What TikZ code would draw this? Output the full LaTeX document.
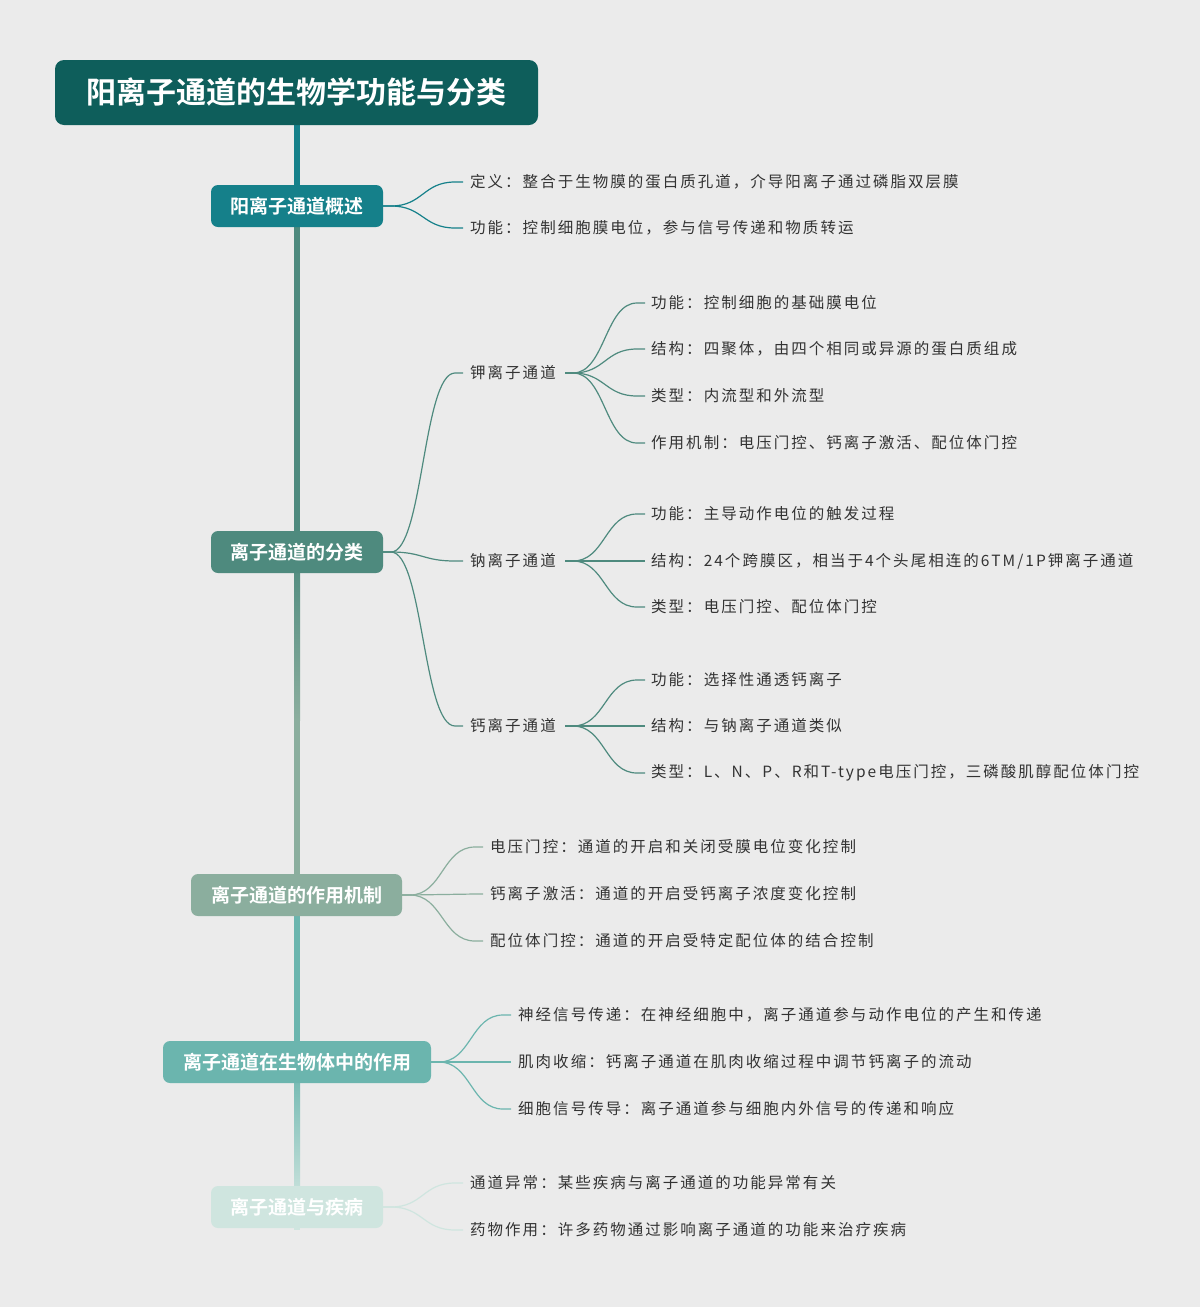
\documentclass[tikz,border=0pt]{standalone}
\usepackage{fontspec}
\setmainfont{Noto Sans CJK SC}[LetterSpace=13]
\newfontfamily\cjkb{Noto Sans CJK SC Bold}
\definecolor{bg}{HTML}{EBEBEB}
\definecolor{cT}{HTML}{0E5E5B}
\definecolor{cA}{HTML}{15808A}
\definecolor{cB}{HTML}{4E8A7E}
\definecolor{cC}{HTML}{8BAE9E}
\definecolor{cD}{HTML}{6BB5AE}
\definecolor{cE}{HTML}{CFE5DF}
\definecolor{tx}{HTML}{333333}
\tikzset{
 sec/.style={rounded corners=7pt,minimum height=42pt,text=white,font=\cjkb\fontsize{19}{19}\selectfont,inner xsep=0pt},
 leaf/.style={anchor=west,text=tx,font=\fontsize{15.5}{16}\selectfont,inner sep=0pt},
 con/.style={line width=1.2pt}
}
\begin{document}
\begin{tikzpicture}[x=1pt,y=-1pt]
\useasboundingbox[fill=bg] (0,0) rectangle (1200,1307);
% trunk
\draw[line width=6pt,cA] (297,125) -- (297,206);
\draw[line width=6pt,cB] (297,206) -- (297,552);
\shade[top color=cB,bottom color=cC] (294,552) rectangle (300,720);
\draw[line width=6pt,cC] (297,720) -- (297,895);
\draw[line width=6pt,cD] (297,895) -- (297,1062);
\shade[top color=cD,bottom color=cE] (294,1062) rectangle (300,1207);
\draw[line width=6pt,cE] (297,1207) -- (297,1230);
% title
\node[fill=cT,rounded corners=9pt,minimum width=483pt,minimum height=65pt,text=white,font=\cjkb\fontsize{30}{30}\selectfont] (title) at (296.5,92.5) {阳离子通道的生物学功能与分类};
% sections
\node[sec,fill=cA,minimum width=172pt] (s1) at (297,206) {阳离子通道概述};
\node[sec,fill=cB,minimum width=172pt] (s2) at (297,552) {离子通道的分类};
\node[sec,fill=cC,minimum width=211pt] (s3) at (296.5,895) {离子通道的作用机制};
\node[sec,fill=cD,minimum width=268pt] (s4) at (297,1062) {离子通道在生物体中的作用};
\node[sec,fill=cE,minimum width=172pt] (s5) at (297,1207) {离子通道与疾病};
\newcommand{\cn}[5]{\draw[con,#5] (#1,#2) -- ++(8,0) .. controls ({#1+8+(#3-#1-16)*0.5},#2) and ({#1+8+(#3-#1-16)*0.5},#4) .. (#3-8,#4) -- (#3,#4);}
% s1
\node[leaf] (l11) at (470,182) {定义：整合于生物膜的蛋白质孔道，介导阳离子通过磷脂双层膜};
\node[leaf] (l12) at (470,228) {功能：控制细胞膜电位，参与信号传递和物质转运};
\cn{383}{206}{463}{182}{cA}\cn{383}{206}{463}{228}{cA}
% s2
\node[leaf] (k) at (470,373) {钾离子通道};
\node[leaf] (n) at (470,561) {钠离子通道};
\node[leaf] (c) at (470,726) {钙离子通道};
\cn{383}{552}{463}{373}{cB}\cn{383}{552}{463}{561}{cB}\cn{383}{552}{463}{726}{cB}
\node[leaf] at (651,303) {功能：控制细胞的基础膜电位};
\node[leaf] at (651,349) {结构：四聚体，由四个相同或异源的蛋白质组成};
\node[leaf] at (651,396) {类型：内流型和外流型};
\node[leaf] at (651,443) {作用机制：电压门控、钙离子激活、配位体门控};
\foreach \y in {303,349,396,443}{\cn{565}{373}{645}{\y}{cB}}
\node[leaf] at (651,514) {功能：主导动作电位的触发过程};
\node[leaf] at (651,561) {结构：24个跨膜区，相当于4个头尾相连的6TM/1P钾离子通道};
\node[leaf] at (651,607) {类型：电压门控、配位体门控};
\foreach \y in {514,561,607}{\cn{565}{561}{645}{\y}{cB}}
\node[leaf] at (651,680) {功能：选择性通透钙离子};
\node[leaf] at (651,726) {结构：与钠离子通道类似};
\node[leaf] at (651,773) {类型：L、N、P、R和T-type电压门控，三磷酸肌醇配位体门控};
\foreach \y in {680,726,773}{\cn{565}{726}{645}{\y}{cB}}
% s3
\node[leaf] at (490,847) {电压门控：通道的开启和关闭受膜电位变化控制};
\node[leaf] at (490,894) {钙离子激活：通道的开启受钙离子浓度变化控制};
\node[leaf] at (490,941) {配位体门控：通道的开启受特定配位体的结合控制};
\foreach \y in {847,894,941}{\cn{402}{895}{483}{\y}{cC}}
% s4
\node[leaf] at (518,1015) {神经信号传递：在神经细胞中，离子通道参与动作电位的产生和传递};
\node[leaf] at (518,1062) {肌肉收缩：钙离子通道在肌肉收缩过程中调节钙离子的流动};
\node[leaf] at (518,1109) {细胞信号传导：离子通道参与细胞内外信号的传递和响应};
\foreach \y in {1015,1062,1109}{\cn{431}{1062}{511}{\y}{cD}}
% s5
\node[leaf] at (470,1183) {通道异常：某些疾病与离子通道的功能异常有关};
\node[leaf] at (470,1230) {药物作用：许多药物通过影响离子通道的功能来治疗疾病};
\foreach \y in {1183,1230}{\cn{383}{1207}{463}{\y}{cE}}
\end{tikzpicture}
\end{document}
